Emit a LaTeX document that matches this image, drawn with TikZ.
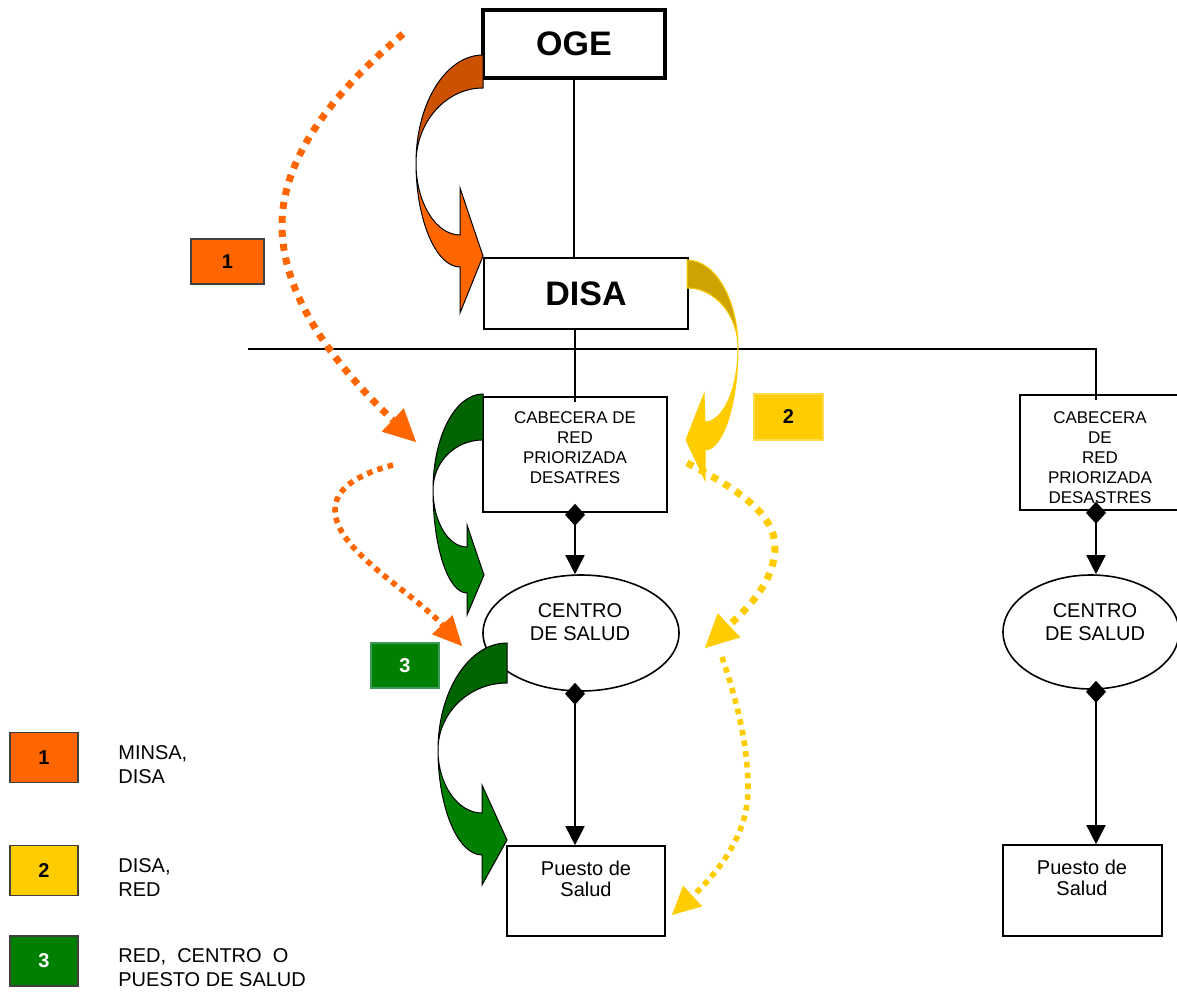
\documentclass[tikz,border=0pt]{standalone}
\usepackage{fontspec}
\setmainfont{Liberation Sans}
\usetikzlibrary{arrows.meta,shapes.geometric}
\definecolor{org}{HTML}{FF6600}
\definecolor{orgdark}{HTML}{CC5200}
\definecolor{yel}{HTML}{FFCC00}
\definecolor{yeldark}{HTML}{CCA300}
\definecolor{grn}{HTML}{008000}
\definecolor{grndark}{HTML}{006400}
\definecolor{grnedge}{HTML}{3C9A5A}
\definecolor{tagedge}{HTML}{404040}
\begin{document}
\begin{tikzpicture}[x=0.5pt,y=-0.5pt,
  box/.style={draw,line width=0.8pt,fill=white,inner sep=0pt},
  txt/.style={align=center,inner sep=0pt,font=\fontsize{10}{11.5}\selectfont},
  smalltxt/.style={align=center,inner sep=0pt,font=\fontsize{8.5}{10}\selectfont},
  legtxt/.style={align=left,anchor=west,inner sep=0pt,font=\fontsize{10}{12}\selectfont},
  bigtxt/.style={font=\fontsize{17}{20}\selectfont\bfseries},
  conn/.style={line width=0.8pt,{Diamond[length=11pt,width=10pt]}-{Triangle[length=9.5pt,width=9.5pt]}},
  tag/.style={inner sep=0pt,font=\fontsize{10}{12}\selectfont\bfseries,line width=0.8pt},
  blockedge/.style={line width=0.5pt},
  dotA/.style={line width=3.5pt,dash pattern=on 3.5pt off 3.5pt},
  dotB/.style={line width=2.8pt,dash pattern=on 2.8pt off 2.6pt}
]
\useasboundingbox (0,0) rectangle (1177,994);

% ---------- hierarchy boxes ----------
\node[box,line width=1.6pt,minimum width=91pt,minimum height=34pt,bigtxt] (oge) at (574,44) {OGE};
\node[box,minimum width=102pt,minimum height=35.5pt,bigtxt] (disa) at (586,293.5) {DISA};

\node[box,minimum width=92pt,minimum height=57.5pt] (cabL) at (575,454.5) {};
\node[smalltxt] (cabLt) at (575,448) {CABECERA DE\\RED\\PRIORIZADA\\DESATRES};

\node[box,minimum width=80pt,minimum height=57.5pt] (cabR) at (1100,452.5) {};
\begin{scope}
  \clip (1000,380) rectangle (1200,502);
  \node[smalltxt] (cabRt) at (1100,458) {CABECERA\\DE\\RED\\PRIORIZADA\\DESASTRES};
\end{scope}

\node[box,ellipse,minimum width=98pt,minimum height=58pt] (cenL) at (581,633) {};
\node[txt] (cenLt) at (580,622) {CENTRO\\DE SALUD};
\node[box,ellipse,minimum width=88pt,minimum height=57pt] (cenR) at (1091,632) {};
\node[txt] (cenRt) at (1095,622) {CENTRO\\DE SALUD};

\node[box,minimum width=79pt,minimum height=45pt] (pL) at (586,891) {};
\node[txt,font=\fontsize{10}{10.5}\selectfont] (pLt) at (586,879) {Puesto de\\Salud};
\node[box,minimum width=79.5pt,minimum height=45.5pt] (pR) at (1082.5,890.5) {};
\node[txt,font=\fontsize{10}{10.5}\selectfont] (pRt) at (1082,878) {Puesto de\\Salud};

% ---------- tree lines ----------
\coordinate (busL) at (248,349);
\coordinate (busR) at (1096,349);
\draw[line width=0.8pt] (oge.south) -- (oge.south |- disa.north);
\draw[line width=0.8pt] (disa.south -| cabL.north) -- ([yshift=-3pt]cabL.north);
\draw[line width=0.8pt] (busL) -- (busR) -- ([yshift=-3pt]busR |- cabR.north);

\draw[conn] ([yshift=4.5pt]cabL.south) -- (cabL.south |- cenL.north);
\draw[conn] ([yshift=4.5pt]cabL.south |- cenL.south) -- (cabL.south |- pL.north);
\draw[conn] ([yshift=4.5pt]busR |- cabR.south) -- (busR |- cenR.north);
\draw[conn] ([yshift=4.5pt]busR |- cenR.south) -- (busR |- pR.north);

% ---------- curved block arrows ----------
% orange: OGE -> DISA
\draw[blockedge,fill=orgdark] (483,55) .. controls (446,55) and (416,103) .. (416,163)
   .. controls (416,122) and (446,88) .. (483,88) -- cycle;
\draw[blockedge,fill=org] (416,163) .. controls (416,220) and (436,267) .. (460,267)
   -- (460,313) -- (483,256) -- (460,188) -- (460,235)
   .. controls (436,235) and (416,203) .. (416,163) -- cycle;
% yellow: DISA -> CABECERA
\draw[blockedge,draw=yel,fill=yeldark] (687,260) .. controls (715,260) and (738,299) .. (738,348)
   .. controls (738,315) and (715,288) .. (687,288) -- cycle;
\draw[blockedge,draw=yel,fill=yel] (738,348) .. controls (738,404) and (723,450) .. (705,450)
   -- (705,480) -- (686,440) -- (704,394) -- (705,422)
   .. controls (723,422) and (738,389) .. (738,348) -- cycle;
% green: CABECERA -> CENTRO
\draw[blockedge,fill=grndark] (483,394) .. controls (455,394) and (433,437) .. (433,490)
   .. controls (433,462) and (455,440) .. (483,440) -- cycle;
\draw[blockedge,fill=grn] (433,490) .. controls (433,547) and (448,593) .. (467,593)
   -- (467,615) -- (484,575) -- (467,525) -- (467,547)
   .. controls (448,547) and (433,521) .. (433,490) -- cycle;
% green: CENTRO -> Puesto
\draw[blockedge,fill=grndark] (507,643) .. controls (469,643) and (438,691) .. (438,750)
   .. controls (438,713) and (469,683) .. (507,683) -- cycle;
\draw[blockedge,fill=grn] (438,750) .. controls (438,808) and (458,855) .. (482,855)
   -- (482,885) -- (507,840) -- (482,785) -- (482,813)
   .. controls (458,813) and (438,785) .. (438,750) -- cycle;

% ---------- dotted arrows ----------
\coordinate (o1a) at (403,34);   \coordinate (o1b) at (416,442);
\coordinate (o2a) at (393,465);  \coordinate (o2b) at (462,646);
\coordinate (y1a) at (687,463);  \coordinate (y1b) at (705,648);
\coordinate (y2a) at (722,657);  \coordinate (y2b) at (672,915);
\draw[dotA,org,-{Triangle[length=16pt,width=16pt,line width=0.1pt]}]
  (o1a) .. controls (330,95) and (282,160) .. (282,225)
        .. controls (282,300) and (340,370) .. (o1b);
\draw[dotB,org,-{Triangle[length=14.5pt,width=14pt,line width=0.1pt]}]
  (o2a) .. controls (355,475) and (335,490) .. (335,510)
        .. controls (335,550) and (410,590) .. (o2b);
\draw[dotA,yel,-{Triangle[length=16.5pt,width=16.5pt,line width=0.1pt]}]
  (y1a) .. controls (740,490) and (775,515) .. (775,547)
        .. controls (775,585) and (740,615) .. (y1b);
\draw[dotB,yel,-{Triangle[length=14pt,width=14pt,line width=0.1pt]}]
  (y2a) .. controls (740,710) and (748,750) .. (748,790)
        .. controls (748,840) and (710,880) .. (y2b);

% ---------- number tags ----------
\node[tag,draw=tagedge,fill=org,minimum width=36.5pt,minimum height=22.5pt] (tag1) at (227.5,261.5) {1};
\node[tag,draw=yel!70!white,fill=yel,minimum width=34.5pt,minimum height=23pt] (tag2) at (788.5,417) {2};
\node[tag,draw=grnedge,fill=grn,text=white,minimum width=34pt,minimum height=22.5pt] (tag3) at (405,665.5) {3};

% ---------- legend ----------
\node[tag,draw=tagedge,fill=org,minimum width=34pt,minimum height=25pt] (leg1) at (44,757.5) {1};
\node[tag,draw=tagedge,fill=yel,minimum width=34pt,minimum height=25pt] (leg2) at (44,870.5) {2};
\node[tag,draw=tagedge,fill=grn,text=white,minimum width=34pt,minimum height=25pt] (leg3) at (44,961) {3};
\node[legtxt] (leg1t) at (118,765) {MINSA,\\DISA};
\node[legtxt] (leg2t) at (118,878) {DISA,\\RED};
\node[legtxt] (leg3t) at (118,968) {RED,\ \ CENTRO\ \ O\\PUESTO DE SALUD};
\end{tikzpicture}
\end{document}
